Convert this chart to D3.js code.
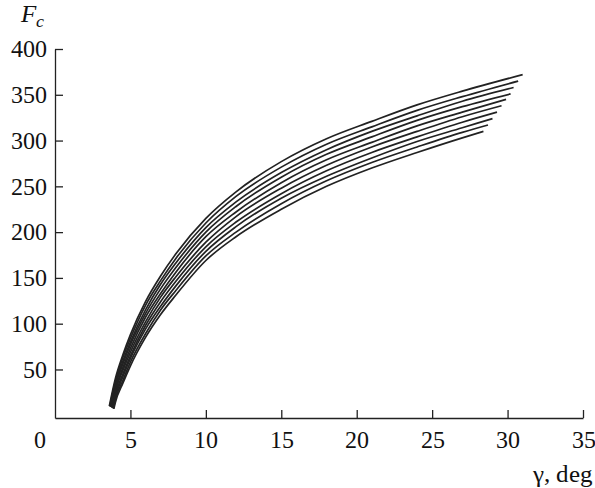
<!DOCTYPE html>
<html>
<head>
<style>
@font-face { font-family: "ChartSerif"; src: local("Liberation Serif"), local("LiberationSerif"), local("Times New Roman"); font-style: normal; }
@font-face { font-family: "ChartSerif"; src: local("Liberation Serif Italic"), local("LiberationSerif-Italic"); font-style: italic; }
</style>
<script src="https://d3js.org/d3.v7.min.js"></script>
</head>
<body style="margin:0">
<svg id="chart" width="595" height="488"></svg>
<script>

// shared x columns (deg)
var gammaCols = [4, 4.5, 5, 6, 7, 8, 10, 12, 15, 18, 21, 24, 27];

// F_c values of each of the 10 curves at those columns, top curve first
var curve0 = [40, 66, 88, 124, 152, 176, 215, 244, 277, 302, 321, 339, 354];
var curve1 = [37, 63, 84, 120, 147, 171, 210, 239, 271, 296, 315, 333, 348];
var curve2 = [34, 59, 80, 115, 143, 166, 205, 233, 265, 290, 310, 327, 343];
var curve3 = [31, 56, 77, 111, 138, 161, 200, 228, 260, 285, 304, 322, 337];
var curve4 = [28, 52, 73, 107, 133, 156, 195, 222, 254, 279, 298, 316, 331];
var curve5 = [26, 49, 69, 102, 129, 151, 189, 217, 248, 273, 293, 310, 326];
var curve6 = [23, 45, 65, 98, 124, 146, 184, 211, 242, 267, 287, 304, 320];
var curve7 = [20, 42, 62, 94, 119, 141, 179, 206, 237, 261, 281, 299, 314];
var curve8 = [17, 38, 58, 89, 115, 136, 174, 200, 231, 256, 276, 293, 309];
var curve9 = [14, 35, 54, 85, 110, 131, 169, 195, 225, 250, 270, 287, 303];
var curves = [curve0, curve1, curve2, curve3, curve4, curve5, curve6, curve7, curve8, curve9];

// where each curve begins and ends
var startX = [3.6, 3.63, 3.67, 3.7, 3.73, 3.77, 3.8, 3.83, 3.87, 3.9];
var startY = [10, 9.7, 9.3, 9, 8.7, 8.3, 8, 7.7, 7.3, 7];
var endX = [31.0, 30.7, 30.4, 30.2, 29.9, 29.6, 29.3, 29.0, 28.7, 28.4];
var endY = [372, 365, 358, 351, 345, 338, 331, 324, 317, 310];

var xTicks = [5, 10, 15, 20, 25, 30, 35];
var yTicks = [50, 100, 150, 200, 250, 300, 350, 400];

var serif = "ChartSerif, Liberation Serif, serif";

var svg = d3.select("#chart");

var x = d3.scaleLinear().domain([0, 35]).range([55, 583]);
var y = d3.scaleLinear().domain([-3, 400]).range([418, 49]);

// curves
var line = d3.line()
    .x(function(d) { return x(d[0]); })
    .y(function(d) { return y(d[1]); })
    .curve(d3.curveMonotoneX);

var series = curves.map(function(vals, k) {
    var pts = [[startX[k], startY[k]]];
    gammaCols.forEach(function(g, i) { pts.push([g, vals[i]]); });
    pts.push([endX[k], endY[k]]);
    return pts;
});

svg.append("g")
    .selectAll("path")
    .data(series)
    .enter().append("path")
    .attr("d", line)
    .attr("fill", "none")
    .attr("stroke", "#222")
    .attr("stroke-width", 1.7);

// axes, ticks pointing inward
var xAxis = svg.append("g")
    .attr("transform", "translate(0,418)")
    .call(d3.axisBottom(x).tickValues(xTicks).tickSize(-8).tickSizeOuter(0).tickPadding(13));

var yAxis = svg.append("g")
    .attr("transform", "translate(55,0)")
    .call(d3.axisLeft(y).tickValues(yTicks).tickSize(-8).tickSizeOuter(0).tickPadding(8));

[xAxis, yAxis].forEach(function(ax) {
    ax.attr("font-family", serif).attr("font-size", 24);
    ax.selectAll("path, line").attr("stroke", "#222").attr("stroke-width", 1.3);
    ax.selectAll("text").attr("fill", "#111").attr("font-family", serif);
});

// origin label
svg.append("text")
    .attr("x", 40)
    .attr("y", 448)
    .attr("text-anchor", "middle")
    .attr("font-family", serif)
    .attr("font-size", 24)
    .attr("fill", "#111")
    .text("0");

// axis titles
svg.append("text")
    .attr("x", 593)
    .attr("y", 482)
    .attr("text-anchor", "end")
    .attr("font-family", serif)
    .attr("font-size", 25)
    .attr("fill", "#111")
    .text("γ, deg");

var fc = svg.append("text")
    .attr("x", 21)
    .attr("y", 22)
    .attr("font-family", serif)
    .attr("font-size", 25)
    .attr("font-style", "italic")
    .attr("fill", "#111");
fc.append("tspan").text("F");
fc.append("tspan")
    .attr("dy", 5)
    .attr("font-size", 18)
    .text("c");

</script>
</body>
</html>
